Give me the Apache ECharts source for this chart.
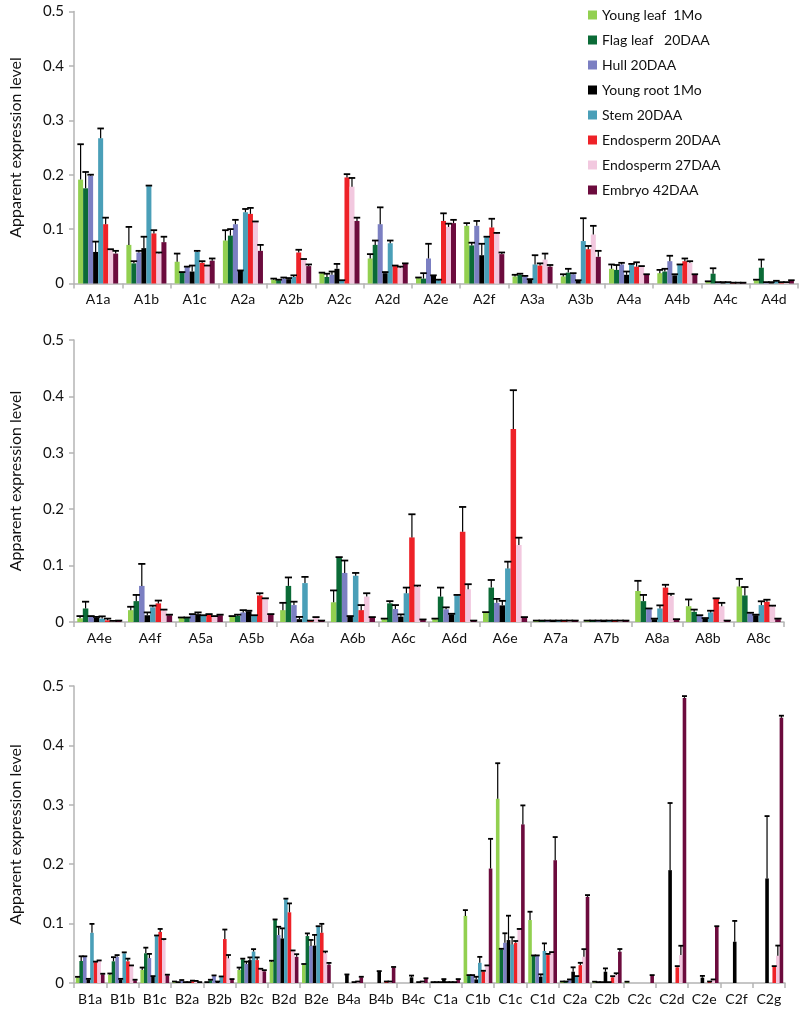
<!DOCTYPE html>
<html>
<head>
<meta charset="utf-8">
<script src="https://cdn.jsdelivr.net/npm/echarts@6/dist/echarts.min.js"></script>
<style>
html,body{margin:0;padding:0;background:#fff;}
#chart{width:800px;height:1017px;}
</style>
</head>
<body>
<div id="chart"></div>
<script>
// ---------- tissues / legend ----------
var tissues = ['Young leaf  1Mo', 'Flag leaf   20DAA', 'Hull 20DAA', 'Young root 1Mo', 'Stem 20DAA', 'Endosperm 20DAA', 'Endosperm 27DAA', 'Embryo 42DAA'];
var tissueColors = ['#92d050', '#0b6b37', '#7b7fc2', '#000000', '#4a9fb8', '#ee2228', '#f2c8df', '#6c0b3d'];
var yTicks = [0, 0.1, 0.2, 0.3, 0.4, 0.5];

// ---------- panel 1 ----------
var p1Categories = ['A1a','A1b','A1c','A2a','A2b','A2c','A2d','A2e','A2f','A3a','A3b','A4a','A4b','A4c','A4d'];
var p1YoungLeaf    = [0.191,0.071,0.040,0.079,0.007,0.019,0.046,0.010,0.106,0.013,0.013,0.027,0.019,0.003,0.006];
var p1YoungLeafErr = [0.065,0.033,0.015,0.019,0.002,0.001,0.008,0.001,0.005,0.003,0.004,0.008,0.006,0.001,0.001];
var p1FlagLeaf     = [0.175,0.037,0.020,0.088,0.006,0.012,0.071,0.009,0.070,0.016,0.020,0.025,0.022,0.018,0.029];
var p1FlagLeafErr  = [0.030,0.004,0.001,0.012,0.001,0.006,0.008,0.010,0.005,0.002,0.007,0.009,0.005,0.010,0.015];
var p1Hull         = [0.198,0.057,0.030,0.109,0.009,0.016,0.109,0.046,0.106,0.013,0.017,0.035,0.041,0.002,0.002];
var p1HullErr      = [0.002,0.003,0.001,0.008,0.002,0.006,0.031,0.027,0.009,0.001,0.002,0.003,0.010,0.0005,0.0005];
var p1YoungRoot    = [0.058,0.065,0.022,0.023,0.008,0.027,0.019,0.014,0.052,0.007,0.005,0.016,0.015,0.002,0.002];
var p1YoungRootErr = [0.019,0.021,0.011,0.001,0.002,0.009,0.002,0.001,0.021,0.001,0.001,0.006,0.002,0.0005,0.0005];
var p1Stem         = [0.267,0.179,0.058,0.131,0.012,0.005,0.074,0.006,0.085,0.035,0.078,0.035,0.034,0.002,0.004];
var p1StemErr      = [0.018,0.001,0.002,0.006,0.003,0.001,0.005,0.001,0.001,0.017,0.042,0.001,0.001,0.0005,0.001];
var p1Endo20       = [0.109,0.092,0.038,0.128,0.057,0.195,0.032,0.115,0.103,0.033,0.063,0.031,0.041,0.001,0.002];
var p1Endo20Err    = [0.012,0.006,0.003,0.011,0.005,0.006,0.001,0.014,0.016,0.004,0.006,0.008,0.005,0.0005,0.0005];
var p1Endo27       = [0.062,0.055,0.032,0.113,0.044,0.178,0.029,0.104,0.092,0.044,0.090,0.031,0.038,0.001,0.002];
var p1Endo27Err    = [0.001,0.002,0.001,0.001,0.001,0.016,0.002,0.006,0.001,0.011,0.016,0.001,0.003,0.0005,0.0005];
var p1Embryo       = [0.055,0.076,0.042,0.060,0.032,0.115,0.036,0.111,0.054,0.031,0.049,0.016,0.016,0.001,0.005];
var p1EmbryoErr    = [0.005,0.010,0.004,0.011,0.003,0.006,0.001,0.006,0.003,0.003,0.011,0.001,0.001,0.0005,0.001];

// ---------- panel 2 ----------
var p2Categories = ['A4e','A4f','A5a','A5b','A6a','A6b','A6c','A6d','A6e','A7a','A7b','A8a','A8b','A8c'];
var p2YoungLeaf    = [0.0065,0.021,0.007,0.0095,0.021,0.035,0.005,0.005,0.0165,0.002,0.002,0.055,0.028,0.063];
var p2YoungLeafErr = [0.004,0.006,0.001,0.001,0.013,0.021,0.001,0.001,0.001,0.0005,0.0005,0.018,0.012,0.0135];
var p2FlagLeaf     = [0.024,0.037,0.007,0.011,0.064,0.114,0.033,0.045,0.061,0.002,0.002,0.037,0.018,0.047];
var p2FlagLeafErr  = [0.012,0.011,0.001,0.002,0.015,0.001,0.004,0.016,0.0135,0.0005,0.0005,0.011,0.004,0.015];
var p2Hull         = [0.0095,0.064,0.013,0.017,0.030,0.087,0.023,0.0225,0.034,0.002,0.002,0.023,0.011,0.0154];
var p2HullErr      = [0.001,0.039,0.001,0.004,0.006,0.022,0.007,0.0035,0.007,0.0005,0.0005,0.001,0.001,0.001];
var p2YoungRoot    = [0.008,0.012,0.014,0.019,0.005,0.0095,0.0095,0.0136,0.0295,0.002,0.002,0.005,0.006,0.012];
var p2YoungRootErr = [0.001,0.005,0.003,0.001,0.004,0.001,0.004,0.001,0.008,0.0005,0.0005,0.001,0.001,0.001];
var p2Stem         = [0.006,0.026,0.011,0.011,0.069,0.082,0.051,0.047,0.095,0.002,0.002,0.024,0.017,0.030];
var p2StemErr      = [0.004,0.003,0.001,0.001,0.011,0.005,0.010,0.001,0.012,0.0005,0.0005,0.0055,0.003,0.0067];
var p2Endo20       = [0.003,0.033,0.013,0.047,0.002,0.021,0.150,0.160,0.342,0.002,0.002,0.061,0.041,0.036];
var p2Endo20Err    = [0.003,0.005,0.001,0.004,0.0005,0.009,0.041,0.044,0.069,0.0005,0.0005,0.005,0.001,0.0035];
var p2Endo27       = [0.0015,0.021,0.0095,0.041,0.0077,0.045,0.0626,0.058,0.1365,0.002,0.002,0.046,0.028,0.028];
var p2Endo27Err    = [0.0005,0.001,0.001,0.001,0.001,0.006,0.002,0.009,0.013,0.0005,0.0005,0.004,0.006,0.001];
var p2Embryo       = [0.002,0.012,0.012,0.013,0.002,0.0077,0.0035,0.002,0.0077,0.002,0.002,0.004,0.002,0.005];
var p2EmbryoErr    = [0.0005,0.001,0.001,0.001,0.0005,0.001,0.001,0.0005,0.001,0.0005,0.0005,0.001,0.0005,0.001];

// ---------- panel 3 ----------
var p3Categories = ['B1a','B1b','B1c','B2a','B2b','B2c','B2d','B2e','B4a','B4b','B4c','C1a','C1b','C1c','C1d','C2a','C2b','C2c','C2d','C2e','C2f','C2g'];
var p3YoungLeaf    = [0.0094,0.014,0.022,0.002,0.001,0.022,0.0358,0.031,0,0,0,0.001,0.113,0.310,0.106,0.002,0.0017,0.0017,0,0,0,0];
var p3YoungLeafErr = [0.001,0.002,0.004,0.0005,0.0005,0.004,0.0017,0.001,0,0,0,0.0005,0.0097,0.060,0.014,0.0005,0.0005,0.0005,0,0,0,0];
var p3FlagLeaf     = [0.037,0.0365,0.050,0.001,0.0045,0.040,0.106,0.079,0,0,0,0.001,0.0123,0.0566,0.0454,0.002,0.001,0,0,0,0,0];
var p3FlagLeafErr  = [0.008,0.007,0.0095,0.0005,0.001,0.001,0.001,0.0045,0,0,0,0.0005,0.001,0.001,0.001,0.0005,0.0005,0,0,0,0,0];
var p3Hull         = [0.044,0.044,0.042,0.004,0.0118,0.032,0.0807,0.0625,0,0,0,0.001,0.0123,0.0677,0.0454,0.005,0.001,0,0,0,0,0];
var p3HullErr      = [0.001,0.003,0.007,0.001,0.001,0.004,0.014,0.010,0,0,0,0.0005,0.001,0.016,0.001,0.001,0.0005,0,0,0,0,0];
var p3YoungRoot    = [0.006,0.006,0.0106,0.001,0.002,0.0386,0.075,0.063,0.0134,0.019,0.0095,0.0056,0.006,0.0723,0.0106,0.019,0.019,0,0.190,0.009,0.0695,0.176];
var p3YoungRootErr = [0.001,0.001,0.001,0.0005,0.0005,0.0045,0.017,0.018,0.001,0.001,0.003,0.001,0.0045,0.041,0.004,0.0074,0.0056,0,0.113,0.003,0.035,0.105];
var p3Stem         = [0.0845,0.050,0.079,0.001,0.010,0.053,0.141,0.0946,0,0,0,0.001,0.034,0.065,0.054,0.0106,0.001,0,0,0,0,0];
var p3StemErr      = [0.015,0.0016,0.001,0.0005,0.001,0.004,0.001,0.001,0,0,0,0.0005,0.010,0.012,0.0127,0.001,0.0005,0,0,0,0,0];
var p3Endo20       = [0.035,0.0365,0.086,0.003,0.074,0.0386,0.119,0.0846,0.001,0.002,0.001,0.001,0.0196,0.0677,0.047,0.030,0.0095,0,0.0264,0.002,0,0.0274];
var p3Endo20Err    = [0.001,0.0045,0.005,0.001,0.016,0.0045,0.015,0.015,0.0005,0.0005,0.0005,0.0005,0.001,0.003,0.002,0.004,0.002,0,0.002,0.0005,0,0.001];
var p3Endo27       = [0.037,0.0286,0.072,0.003,0.0415,0.023,0.0538,0.050,0.002,0.002,0.002,0.001,0.0286,0.090,0.051,0.044,0.0134,0,0.047,0.005,0,0.046];
var p3Endo27Err    = [0.001,0.001,0.002,0.0005,0.0056,0.001,0.001,0.003,0.0005,0.0005,0.0005,0.0005,0.001,0.001,0.001,0.013,0.003,0,0.0157,0.001,0,0.017];
var p3Embryo       = [0.0146,0.0045,0.013,0.001,0.0056,0.0196,0.044,0.0308,0.0095,0.026,0.007,0.0056,0.1927,0.267,0.2067,0.145,0.0527,0.0123,0.480,0.0946,0,0.4465];
var p3EmbryoErr    = [0.001,0.001,0.001,0.0005,0.001,0.002,0.0045,0.003,0.001,0.001,0.001,0.001,0.050,0.032,0.039,0.003,0.0045,0.001,0.003,0.001,0,0.0035];

// ---------- build ----------
var panels = [
  {cats: p1Categories, gap: 0.17,
   vals: [p1YoungLeaf,p1FlagLeaf,p1Hull,p1YoungRoot,p1Stem,p1Endo20,p1Endo27,p1Embryo],
   errs: [p1YoungLeafErr,p1FlagLeafErr,p1HullErr,p1YoungRootErr,p1StemErr,p1Endo20Err,p1Endo27Err,p1EmbryoErr],
   grid: {left: 71, top: 11.5, width: 727, height: 272}},
  {cats: p2Categories, gap: 0.13,
   vals: [p2YoungLeaf,p2FlagLeaf,p2Hull,p2YoungRoot,p2Stem,p2Endo20,p2Endo27,p2Embryo],
   errs: [p2YoungLeafErr,p2FlagLeafErr,p2HullErr,p2YoungRootErr,p2StemErr,p2Endo20Err,p2Endo27Err,p2EmbryoErr],
   grid: {left: 70, top: 340, width: 714, height: 282}},
  {cats: p3Categories, gap: 0.11,
   vals: [p3YoungLeaf,p3FlagLeaf,p3Hull,p3YoungRoot,p3Stem,p3Endo20,p3Endo27,p3Embryo],
   errs: [p3YoungLeafErr,p3FlagLeafErr,p3HullErr,p3YoungRootErr,p3StemErr,p3Endo20Err,p3Endo27Err,p3EmbryoErr],
   grid: {left: 68, top: 686, width: 717, height: 297}}
];

var FONT = 'Lato';
var axisGray = '#b4b4b4';
var grids = [], xAxes = [], yAxes = [], series = [];

panels.forEach(function (p, pi) {
  grids.push(p.grid);
  xAxes.push({
    type: 'category', gridIndex: pi, data: p.cats,
    axisLine: {lineStyle: {color: axisGray, width: 1.5}},
    axisTick: {show: true, length: 5, lineStyle: {color: axisGray, width: 1.5}},
    axisLabel: {color: '#111', fontFamily: FONT, fontSize: 14, margin: 9, interval: 0}
  });
  yAxes.push({
    type: 'value', gridIndex: pi, min: 0, max: 0.5, interval: 0.1,
    name: 'Apparent expression level', nameLocation: 'middle', nameGap: 50,
    nameTextStyle: {color: '#111', fontFamily: FONT, fontSize: 16},
    axisLine: {show: true, lineStyle: {color: axisGray, width: 1.5}},
    axisTick: {show: true, length: 5, lineStyle: {color: axisGray, width: 1.5}},
    splitLine: {show: false},
    axisLabel: {color: '#111', fontFamily: FONT, fontSize: 15, margin: 10,
      formatter: function (v) { return String(Math.round(v * 10) / 10); }}
  });
  var gapFrac = p.gap;
  for (var i = 0; i < 8; i++) {
    series.push({
      type: 'bar', name: tissues[i], xAxisIndex: pi, yAxisIndex: pi,
      data: p.vals[i], barGap: '0%', barCategoryGap: (gapFrac * 100) + '%',
      itemStyle: {color: tissueColors[i]}, animation: false, z: 2
    });
  }
  for (var j = 0; j < 8; j++) {
    (function (idx) {
      var d = p.vals[idx].map(function (v, k) { return [k, v, p.errs[idx][k]]; });
      series.push({
        type: 'custom', xAxisIndex: pi, yAxisIndex: pi, data: d, z: 5, animation: false,
        silent: true,
        renderItem: function (params, api) {
          var ci = api.value(0), v = api.value(1), e = api.value(2);
          if (!(v > 0)) return null;
          var base = api.coord([ci, v]);
          var top = api.coord([ci, v + e]);
          var bw = api.size([1, 0])[0];
          var gw = bw * (1 - gapFrac);
          var w = gw / 8;
          var x = base[0] - gw / 2 + w * (idx + 0.5);
          var capHalf = Math.max(2.5, w * 0.65);
          return {type: 'group', children: [
            {type: 'line', shape: {x1: x, y1: base[1], x2: x, y2: top[1]}, style: {stroke: '#000', lineWidth: 1.2}},
            {type: 'line', shape: {x1: x - capHalf, y1: top[1], x2: x + capHalf, y2: top[1]}, style: {stroke: '#000', lineWidth: 1.8}}
          ]};
        },
        encode: {x: 0, y: 1}
      });
    })(j);
  }
});

var chart = echarts.init(document.getElementById('chart'), null, {renderer: 'canvas'});
chart.setOption({
  animation: false,
  backgroundColor: '#fff',
  legend: {
    data: tissues, orient: 'vertical', left: 583, top: 3,
    itemWidth: 9, itemHeight: 9, itemGap: 11, icon: 'rect',
    textStyle: {color: '#111', fontFamily: FONT, fontSize: 14}
  },
  grid: grids,
  xAxis: xAxes,
  yAxis: yAxes,
  series: series
});
</script>
</body>
</html>
